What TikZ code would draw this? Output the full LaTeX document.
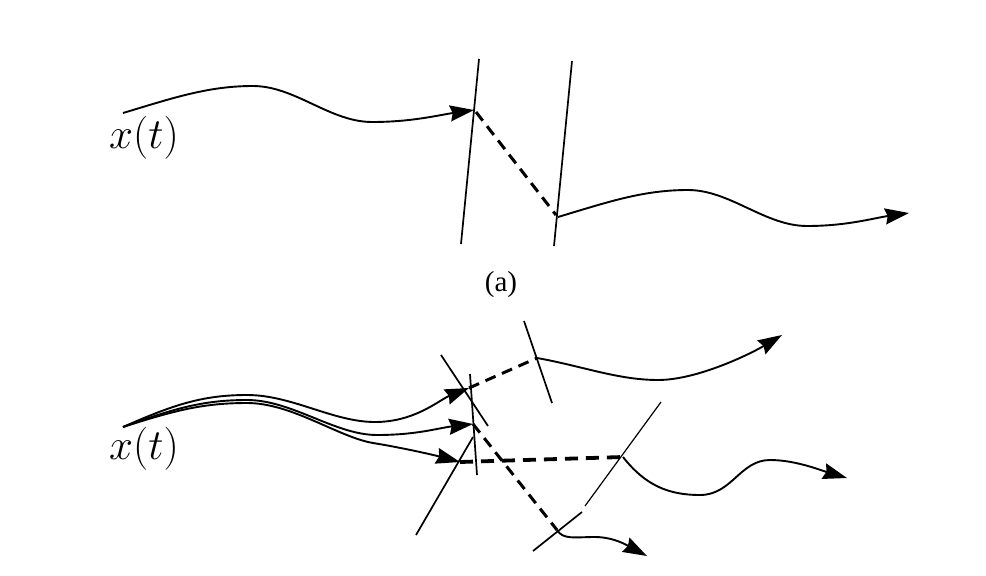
\RequirePackage{fix-cm}
\documentclass[tikz,border=0pt]{standalone}
\usepackage{fontspec}
\newfontfamily\timesf{Liberation Serif}
\usetikzlibrary{arrows.meta}
\begin{document}
\begin{tikzpicture}[x=1pt,y=-1pt,
  curve/.style={line width=1.9pt},
  arr/.style={curve,-{Stealth[length=24pt,width=16pt,inset=2.5pt]}},
  bar/.style={line width=1.7pt},
  thinbar/.style={line width=1.2pt},
  dsh/.style={line width=3pt,dash pattern=on 11pt off 7pt},
  dshthick/.style={line width=3.8pt,dash pattern=on 13pt off 8pt},
  lbl/.style={inner sep=0pt}]
\useasboundingbox (0,0) rectangle (986,576);

% ---------- (a) ----------
\node[lbl,font=\fontsize{43}{51}\selectfont] (xa) at (144,138) {$x(t)$};
\coordinate (s1) at (123,113);
\coordinate (e1) at (474,110);
\coordinate (s2) at (558,217);
\coordinate (e2) at (909,213);
\coordinate (l1t) at (479,59);  \coordinate (l1b) at (461,244);
\coordinate (l2t) at (572,61);  \coordinate (l2b) at (554,246);
\coordinate (d1a) at (476,112); \coordinate (d1b) at (556,215);

\draw[bar] (l1t) -- (l1b);
\draw[bar] (l2t) -- (l2b);
\draw[arr] (s1) .. controls +(50,-15) and +(-45,0) .. ++(130,-27)
  .. controls +(42,0) and +(-42,0) .. ++(119,36)
  .. controls +(40,0) and +(-35,5) .. (e1);
\draw[dsh] (d1a) -- (d1b);
\draw[arr] (s2) .. controls +(50,-15) and +(-45,0) .. ++(130,-27)
  .. controls +(42,0) and +(-42,0) .. ++(119,36)
  .. controls +(40,0) and +(-35,5) .. (e2);

\node[lbl,font=\timesf\fontsize{29}{35}\selectfont] (cap) at (501,285) {(a)};

% ---------- (b) ----------
\node[lbl,font=\fontsize{43}{51}\selectfont] (xb) at (144,449) {$x(t)$};
\coordinate (s3) at (123,427);
\coordinate (eu) at (469,388);
\coordinate (em) at (473,424);
\coordinate (el) at (460,462);

\coordinate (at) at (441,355); \coordinate (ab) at (488,426);
\coordinate (bt) at (470,374); \coordinate (bb) at (477,475);
\coordinate (ct) at (473,437); \coordinate (cb) at (416,535);
\coordinate (dt) at (524,321); \coordinate (db) at (552,403);
\coordinate (et) at (661,402); \coordinate (eb) at (585,506);
\coordinate (ft) at (582,512); \coordinate (fb) at (533,551);

\coordinate (pu) at (537,358);
\coordinate (pm) at (623,457);
\coordinate (pl) at (557,530);
\coordinate (tu) at (782,335);
\coordinate (tm) at (847,478);
\coordinate (tl) at (647,556);

\draw[bar] (at) -- (ab);
\draw[bar] (bt) -- (bb);
\draw[bar] (ct) -- (cb);
\draw[bar] (dt) -- (db);
\draw[thinbar] (et) -- (eb);
\draw[bar] (ft) -- (fb);

% incoming curves
\draw[arr] (s3) .. controls +(50,-22) and +(-45,0) .. ++(124,-32)
  .. controls +(45,0) and +(-42,0) .. ++(128,27)
  .. controls +(40,0) and +(-30,12) .. (eu);
\draw[arr] (s3) .. controls +(50,-18) and +(-45,0) .. ++(124,-27)
  .. controls +(45,0) and +(-42,0) .. ++(130,35)
  .. controls +(40,0) and +(-35,4) .. (em);
\draw[arr] (s3) .. controls +(50,-16) and +(-45,0) .. ++(124,-24)
  .. controls +(45,0) and +(-35,-6) .. ++(126,40)
  .. controls +(25,4) and +(-30,-8) .. (el);

% dashed links
\draw[dsh] (eu) -- (pu);
\draw[dsh] (em) -- (pl);
\draw[dshthick] (el) -- (pm);

% outgoing curves
\draw[arr] (pu) .. controls +(45,8) and +(-40,0) .. ++(121,22)
  .. controls +(40,0) and +(-30,18) .. (tu);
\draw[arr] (pm) .. controls +(22,28) and +(-32,0) .. ++(77,38)
  .. controls +(32,0) and +(-30,0) .. ++(70,-35)
  .. controls +(25,0) and +(-27,-8) .. (tm);
\draw[arr] (pl) .. controls +(6,10) and +(-20,0) .. ++(38,7)
  .. controls +(20,0) and +(-17,-9) .. (tl);
\end{tikzpicture}
\end{document}
